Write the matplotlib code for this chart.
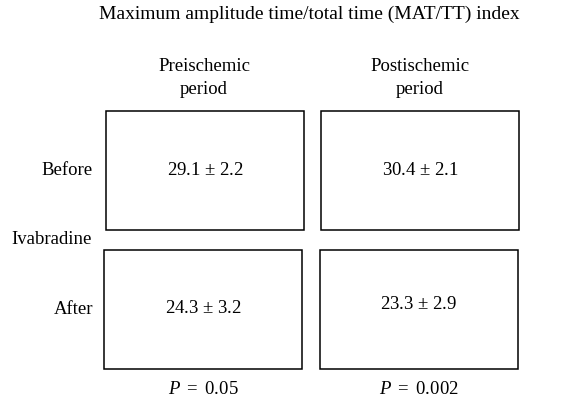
import matplotlib.pyplot as plt
from matplotlib.patches import Rectangle

plt.rcParams['font.family'] = ['Liberation Serif', 'DejaVu Serif']
plt.rcParams['mathtext.fontset'] = 'custom'
plt.rcParams['mathtext.it'] = 'Liberation Serif:italic'
plt.rcParams['mathtext.rm'] = 'Liberation Serif'

# data
title = 'Maximum amplitude time/total time (MAT/TT) index'
periods = ['Preischemic\nperiod', 'Postischemic\nperiod']
rows = ['Before', 'After']
means = [[29.1, 30.4], [24.3, 23.3]]
sds = [[2.2, 2.1], [3.2, 2.9]]
p_values = ['0.05', '0.002']

fig = plt.figure(figsize=(5.71, 4.02), dpi=100)
ax = fig.add_axes([0, 0, 1, 1])
ax.set_xlim(0, 571)
ax.set_ylim(402, 0)
ax.axis('off')

fs = 13.5

# box layout (pixels)
box_x = [[106, 321], [104, 320]]
box_y = [112, 251]
box_w = 198
box_h = 119
text_dy = [59, 59, 58, 54]

ax.text(309, 14, title, ha='center', va='center', fontsize=14)

col_cx = [204, 420]
for j, lab in enumerate(periods):
    ax.text(col_cx[j], 78, lab, ha='center', va='center', fontsize=fs,
            linespacing=1.42)

row_y = [171, 310]
for i, lab in enumerate(rows):
    ax.text(93, row_y[i], lab, ha='right', va='center', fontsize=fs)
ax.text(92, 240, 'Ivabradine', ha='right', va='center', fontsize=fs)

k = 0
for i in range(2):
    for j in range(2):
        x0 = box_x[i][j]
        y0 = box_y[i]
        ax.add_patch(Rectangle((x0, y0), box_w, box_h, fill=False,
                               edgecolor='black', linewidth=1.1))
        ax.text(x0 + box_w / 2, y0 + text_dy[k],
                f'{means[i][j]:.1f} $\\pm$ {sds[i][j]:.1f}',
                ha='center', va='center', fontsize=fs)
        k += 1

for j, p in enumerate(p_values):
    ax.text(box_x[1][j] + box_w / 2, 390, f'$P\\ =\\ \\mathrm{{{p}}}$',
            ha='center', va='center', fontsize=fs)

fig.savefig('out.png', dpi=100, facecolor='white')
